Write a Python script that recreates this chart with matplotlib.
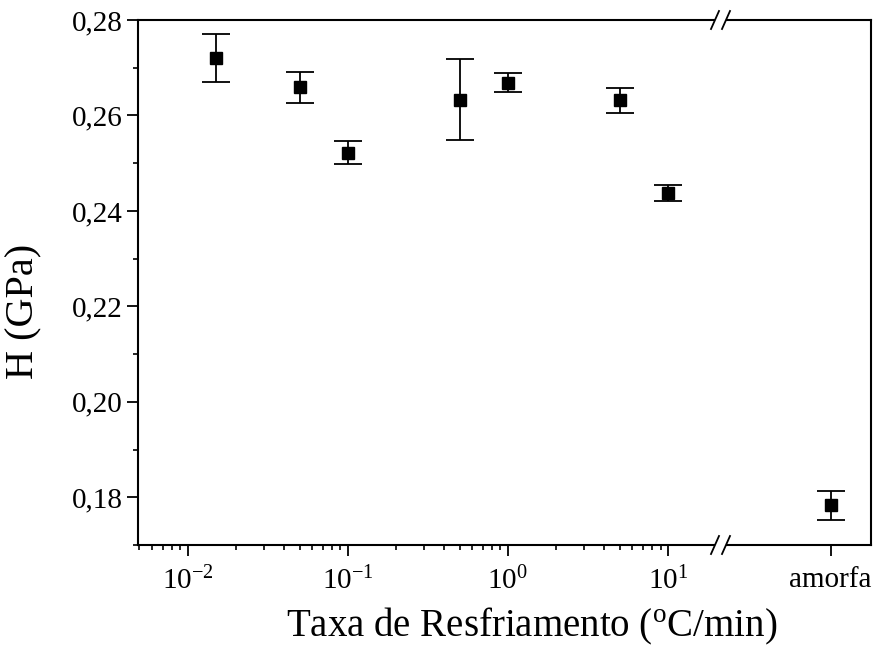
import numpy as np
import matplotlib
matplotlib.use("Agg")
import matplotlib.pyplot as plt
from matplotlib.ticker import FuncFormatter, MultipleLocator, LogLocator, LogFormatterSciNotation

plt.rcParams['font.family'] = ['Liberation Serif', 'DejaVu Serif']
plt.rcParams['mathtext.fontset'] = 'custom'
plt.rcParams['mathtext.rm'] = 'Liberation Serif'
plt.rcParams['mathtext.it'] = 'Liberation Serif:italic'

# cooling rate data (degC/min)
rates = [0.015, 0.05, 0.1, 0.5, 1.0, 5.0, 10.0]
hardness = [0.2721, 0.2659, 0.2522, 0.2633, 0.2669, 0.2632, 0.2437]
hardness_err = [0.0050, 0.0033, 0.0024, 0.0085, 0.0020, 0.0026, 0.0017]

# amorphous sample
amorph_label = 'amorfa'
amorph_h = 0.1783
amorph_err = 0.0031

fig = plt.figure(figsize=(8.75, 6.49), dpi=100)
W, H = 875, 649
def rect(x0, x1, y0, y1):
    return [x0 / W, 1 - y1 / H, (x1 - x0) / W, (y1 - y0) / H]

ax1 = fig.add_axes(rect(138, 714, 20, 545))
ax2 = fig.add_axes(rect(727, 871, 20, 545), sharey=ax1)

style = dict(fmt='s', color='black', ecolor='black', markersize=8,
             elinewidth=1.3, capsize=10, capthick=1.3)
ax1.errorbar(rates, hardness, yerr=hardness_err, **style)
ax2.errorbar([0.72], [amorph_h], yerr=[amorph_err], **style)

ax1.set_xscale('log')
ax1.set_xlim(0.0049, 19.4)
ax1.set_ylim(0.17, 0.28)
ax2.set_xlim(0, 1)

ax1.yaxis.set_major_locator(MultipleLocator(0.02))
ax1.yaxis.set_minor_locator(MultipleLocator(0.01))
ax1.yaxis.set_major_formatter(FuncFormatter(lambda v, p: f"{v:.2f}".replace('.', ',')))
ax1.xaxis.set_major_locator(LogLocator(base=10, numticks=10))
ax1.xaxis.set_minor_locator(LogLocator(base=10, subs=np.arange(2, 10), numticks=20))
ax1.xaxis.set_major_formatter(LogFormatterSciNotation())

ax2.set_xticks([0.72])
ax2.set_xticklabels([amorph_label])
ax2.tick_params(axis='y', which='both', left=False, labelleft=False)
ax2.tick_params(axis='x', which='minor', bottom=False)

for ax in (ax1, ax2):
    for s in ax.spines.values():
        s.set_linewidth(1.5)
    ax.tick_params(which='major', direction='out', length=8, width=1.3, labelsize=21)
    ax.tick_params(which='minor', direction='out', length=3.5, width=1.2)
    ax.tick_params(top=False, right=False, which='both')
ax1.tick_params(axis='y', pad=3)
ax1.tick_params(axis='x', pad=8)
ax2.tick_params(axis='x', pad=8)

ax1.spines['right'].set_visible(False)
ax2.spines['left'].set_visible(False)

fig.text(24 / W, 1 - 311 / H, 'H (GPa)', fontsize=29, rotation=90, ha='center', va='center')
fig.text(532 / W, 1 - 636 / H, r'Taxa de Resfriamento ($^{\mathrm{o}}$C/min)',
         fontsize=28, ha='center', va='baseline')

# break marks
for xb in (715, 726):
    for yb in (20, 545):
        fig.add_artist(plt.Line2D([(xb - 4) / W, (xb + 4) / W],
                                  [1 - (yb + 9) / H, 1 - (yb - 9) / H],
                                  color='black', lw=1.3))

fig.savefig('out.png', dpi=100)
